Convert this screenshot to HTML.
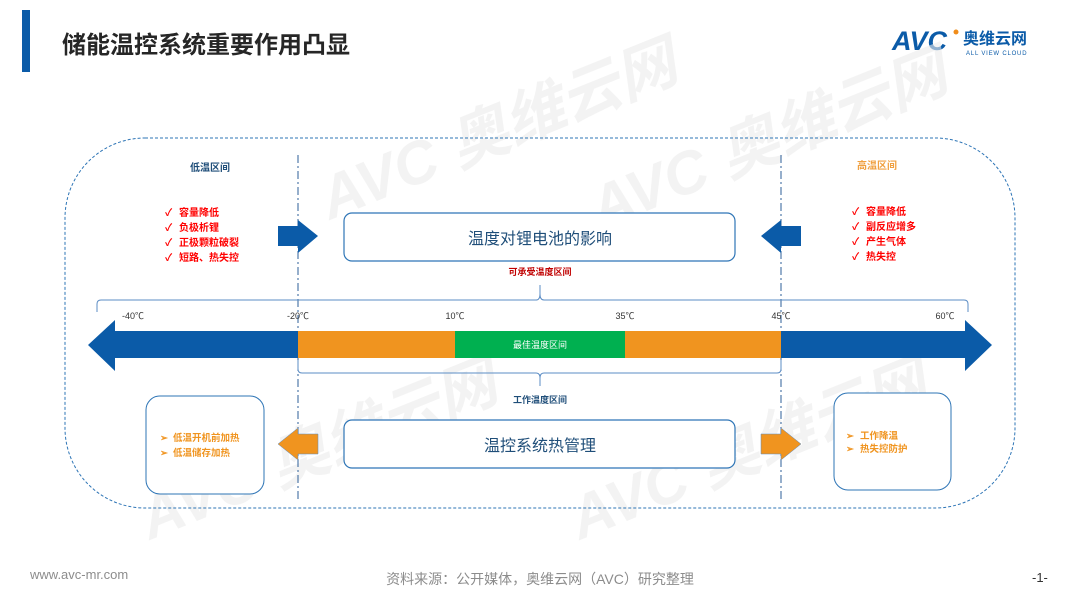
<!DOCTYPE html>
<html><head><meta charset="utf-8"><style>
html,body{margin:0;padding:0;background:#fff;}
svg{display:block;font-family:"Liberation Sans","Noto Sans CJK SC",sans-serif;}
</style></head><body>
<svg width="1080" height="608" viewBox="0 0 1080 608" xmlns="http://www.w3.org/2000/svg">
<rect x="22" y="10" width="8" height="62" fill="#0b5ba8"/>
<text x="62" y="53" font-size="24" font-weight="bold" fill="#262626">储能温控系统重要作用凸显</text>
<text x="892" y="50" font-size="27" font-weight="bold" font-style="italic" fill="#0b5ba8">AVC</text>
<circle cx="956" cy="32" r="2.5" fill="#f08c1a"/>
<text x="963" y="44" font-size="16" font-weight="bold" fill="#0b5ba8">奥维云网</text>
<text x="966" y="55" font-size="6" fill="#0b5ba8" letter-spacing="0.8">ALL VIEW CLOUD</text>

<g fill="#ececec" opacity="0.6" font-weight="bold" font-style="italic">
<text x="330" y="220" font-size="60" transform="rotate(-22 330 220)">AVC 奥维云网</text>
<text x="600" y="230" font-size="60" transform="rotate(-22 600 230)">AVC 奥维云网</text>
<text x="150" y="540" font-size="60" transform="rotate(-22 150 540)">AVC 奥维云网</text>
<text x="580" y="540" font-size="60" transform="rotate(-22 580 540)">AVC 奥维云网</text>
</g>

<rect x="65" y="138" width="950" height="370" rx="80" fill="none" stroke="#2e75b6" stroke-width="1" stroke-dasharray="3,2"/>
<line x1="298" y1="155" x2="298" y2="500" stroke="#2e5f99" stroke-width="1" stroke-dasharray="8,3,2,3"/>
<line x1="781" y1="155" x2="781" y2="500" stroke="#2e5f99" stroke-width="1" stroke-dasharray="8,3,2,3"/>

<text x="210" y="171" font-size="10" font-weight="bold" fill="#1f4e79" text-anchor="middle">低温区间</text>
<g font-size="10" font-weight="bold" fill="#ff0000">
<text x="165" y="216">✓</text><text x="179" y="216">容量降低</text>
<text x="165" y="231">✓</text><text x="179" y="231">负极析锂</text>
<text x="165" y="246">✓</text><text x="179" y="246">正极颗粒破裂</text>
<text x="165" y="261">✓</text><text x="179" y="261">短路、热失控</text>
</g>
<text x="877" y="169" font-size="10" font-weight="bold" fill="#f0a040" text-anchor="middle">高温区间</text>
<g font-size="10" font-weight="bold" fill="#ff0000">
<text x="852" y="215">✓</text><text x="866" y="215">容量降低</text>
<text x="852" y="230">✓</text><text x="866" y="230">副反应增多</text>
<text x="852" y="245">✓</text><text x="866" y="245">产生气体</text>
<text x="852" y="260">✓</text><text x="866" y="260">热失控</text>
</g>

<polygon points="278,226 298,226 298,220 318,236 298,253 298,246 278,246" fill="#0b5ba8"/>
<polygon points="801,226 781,226 781,220 761,236 781,253 781,246 801,246" fill="#0b5ba8"/>
<rect x="344" y="213" width="391" height="48" rx="8" fill="#fff" stroke="#2e75b6" stroke-width="1.2"/>
<text x="540" y="244" font-size="16" fill="#1f4e79" text-anchor="middle">温度对锂电池的影响</text>
<text x="540" y="275" font-size="9" font-weight="bold" fill="#c00000" text-anchor="middle">可承受温度区间</text>

<path d="M97,312 V304 Q97,300 101,300 H536 Q540,300 540,294 V285 M540,294 Q540,300 544,300 H964 Q968,300 968,304 V312" fill="none" stroke="#5b8cc4" stroke-width="1"/>
<g font-size="9" fill="#333" text-anchor="middle">
<text x="133" y="319">-40℃</text><text x="298" y="319">-20℃</text><text x="455" y="319">10℃</text>
<text x="625" y="319">35℃</text><text x="781" y="319">45℃</text><text x="945" y="319">60℃</text>
</g>
<polygon points="88,345 115,320 115,331 298,331 298,358 115,358 115,371" fill="#0b5ba8"/>
<polygon points="992,345 965,320 965,331 781,331 781,358 965,358 965,371" fill="#0b5ba8"/>
<rect x="298" y="331" width="157" height="27" fill="#f0941f"/>
<rect x="455" y="331" width="170" height="27" fill="#00b050"/>
<rect x="625" y="331" width="156" height="27" fill="#f0941f"/>
<text x="540" y="348" font-size="9" fill="#fff" text-anchor="middle">最佳温度区间</text>
<path d="M298,360 V369 Q298,373 302,373 H536 Q540,373 540,378 V386 M540,378 Q540,373 544,373 H777 Q781,373 781,369 V360" fill="none" stroke="#5b8cc4" stroke-width="1"/>
<text x="540" y="403" font-size="9" font-weight="bold" fill="#1f4e79" text-anchor="middle">工作温度区间</text>

<rect x="146" y="396" width="118" height="98" rx="14" fill="#fff" stroke="#2e75b6" stroke-width="1"/>
<g font-size="9.5" font-weight="bold" fill="#f0941f">
<text x="160" y="441">➢</text><text x="173" y="441">低温开机前加热</text>
<text x="160" y="456">➢</text><text x="173" y="456">低温储存加热</text>
</g>
<polygon points="318,434 298,434 298,428 278,444 298,460 298,454 318,454" fill="#f0941f" stroke="#5b8cc4" stroke-width="0.5"/>
<polygon points="761,434 781,434 781,428 801,444 781,460 781,454 761,454" fill="#f0941f" stroke="#5b8cc4" stroke-width="0.5"/>
<rect x="344" y="420" width="391" height="48" rx="8" fill="#fff" stroke="#2e75b6" stroke-width="1.2"/>
<text x="540" y="451" font-size="16" fill="#1f4e79" text-anchor="middle">温控系统热管理</text>
<rect x="834" y="393" width="117" height="97" rx="14" fill="#fff" stroke="#2e75b6" stroke-width="1"/>
<g font-size="9.5" font-weight="bold" fill="#f0941f">
<text x="846" y="439">➢</text><text x="860" y="439">工作降温</text>
<text x="846" y="452">➢</text><text x="860" y="452">热失控防护</text>
</g>

<text x="30" y="579" font-size="13" fill="#8c8c8c">www.avc-mr.com</text>
<text x="540" y="584" font-size="14" fill="#8c8c8c" text-anchor="middle">资料来源：公开媒体，奥维云网（AVC）研究整理</text>
<text x="1032" y="582" font-size="13" fill="#333">-1-</text>
</svg>
</body></html>
